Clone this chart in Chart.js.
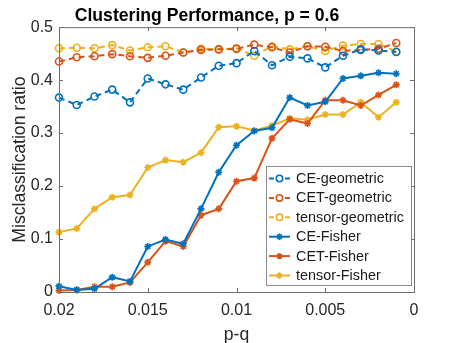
<!DOCTYPE html>
<html>
<head>
<meta charset="utf-8">
<script src="https://cdn.jsdelivr.net/npm/chart.js@4"></script>
<style>
  html, body { margin: 0; padding: 0; background: #fff; }
  #wrap { width: 458px; height: 343px; }
</style>
</head>
<body>
<div id="wrap"><canvas id="perf" width="458" height="343"></canvas></div>
<script>
// p-q values (x axis runs from 0.02 down to 0)
const pq = [0.02, 0.019, 0.018, 0.017, 0.016, 0.015, 0.014, 0.013, 0.012, 0.011,
            0.010, 0.009, 0.008, 0.007, 0.006, 0.005, 0.004, 0.003, 0.002, 0.001];

const ceGeometric = [0.367, 0.353, 0.369, 0.382, 0.358, 0.403, 0.392, 0.382, 0.405, 0.427,
                     0.432, 0.455, 0.428, 0.444, 0.441, 0.424, 0.446, 0.458, 0.456, 0.453];
const cetGeometric = [0.435, 0.443, 0.445, 0.449, 0.445, 0.442, 0.446, 0.452, 0.457, 0.458,
                      0.459, 0.467, 0.462, 0.452, 0.464, 0.463, 0.455, 0.457, 0.459, 0.470];
const tensorGeometric = [0.460, 0.461, 0.460, 0.466, 0.456, 0.462, 0.464, 0.452, 0.459, 0.458,
                         0.460, 0.446, 0.464, 0.458, 0.464, 0.455, 0.465, 0.468, 0.468, 0.454];
const ceFisher = [0.011, 0.004, 0.006, 0.028, 0.020, 0.086, 0.099, 0.091, 0.157, 0.226,
                  0.277, 0.304, 0.310, 0.367, 0.352, 0.359, 0.403, 0.408, 0.414, 0.412];
const cetFisher = [0.003, 0.004, 0.010, 0.010, 0.018, 0.056, 0.096, 0.086, 0.145, 0.157,
                   0.209, 0.215, 0.290, 0.326, 0.318, 0.362, 0.362, 0.352, 0.372, 0.391];
const tensorFisher = [0.113, 0.120, 0.157, 0.179, 0.183, 0.235, 0.249, 0.245, 0.263, 0.311,
                      0.313, 0.305, 0.314, 0.328, 0.325, 0.335, 0.335, 0.358, 0.330, 0.358];

const seriesNames = ['CE-geometric', 'CET-geometric', 'tensor-geometric',
                     'CE-Fisher', 'CET-Fisher', 'tensor-Fisher'];
const xTicks = [0.02, 0.015, 0.01, 0.005, 0];
const yTicks = [0, 0.1, 0.2, 0.3, 0.4, 0.5];

const blue = '#0072BD', red = '#D95319', yellow = '#EDB120';
const FONT = '"Liberation Sans", Arial, Helvetica, sans-serif';

function pts(ys) {
  return ys.map((y, i) => ({ x: pq[i], y: y }));
}

function makeSet(name, ys, color, geometric) {
  return {
    label: name,
    data: pts(ys),
    borderColor: color,
    backgroundColor: color,
    borderWidth: 2,
    borderDash: geometric ? [6, 4] : [],
    pointStyle: geometric ? 'circle' : 'star',
    pointRadius: 3.5,
    pointBorderWidth: 1.6,
    pointBackgroundColor: geometric ? 'rgba(0,0,0,0)' : color,
    pointBorderColor: color,
    tension: 0,
    clip: 8,
  };
}

// box round the axes with inward ticks, like matlab
const boxPlugin = {
  id: 'box',
  afterDraw(chart) {
    const ctx = chart.ctx;
    const a = chart.chartArea;
    const xs = chart.scales.x, ys = chart.scales.y;
    ctx.save();
    ctx.strokeStyle = '#6e6e6e';
    ctx.lineWidth = 1;
    ctx.strokeRect(a.left + 0.5, a.top + 0.5, a.right - a.left, a.bottom - a.top);
    ctx.beginPath();
    xTicks.forEach((t) => {
      const px = Math.round(xs.getPixelForValue(t)) + 0.5;
      ctx.moveTo(px, a.bottom); ctx.lineTo(px, a.bottom - 4);
      ctx.moveTo(px, a.top); ctx.lineTo(px, a.top + 4);
    });
    yTicks.forEach((t) => {
      const py = Math.round(ys.getPixelForValue(t)) + 0.5;
      ctx.moveTo(a.left, py); ctx.lineTo(a.left + 4, py);
      ctx.moveTo(a.right, py); ctx.lineTo(a.right - 4, py);
    });
    ctx.stroke();
    ctx.restore();
  },
};

// legend drawn inside the lower right corner
const legendPlugin = {
  id: 'insideLegend',
  afterDraw(chart) {
    const ctx = chart.ctx;
    const a = chart.chartArea;
    const w = 145, h = 119;
    const left = a.right - 3 - w, top = a.bottom - 7 - h;
    ctx.save();
    ctx.fillStyle = '#fff';
    ctx.fillRect(left, top, w, h);
    ctx.strokeStyle = '#8c8c8c';
    ctx.lineWidth = 1;
    ctx.strokeRect(left + 0.5, top + 0.5, w, h);
    ctx.font = '14.4px ' + FONT;
    ctx.textBaseline = 'middle';
    chart.data.datasets.forEach((ds, i) => {
      const cy = top + 12.5 + i * 19.4;
      ctx.strokeStyle = ds.borderColor;
      ctx.lineWidth = 2;
      ctx.setLineDash(ds.borderDash.length ? [5, 3] : []);
      ctx.beginPath();
      ctx.moveTo(left + 3, cy);
      ctx.lineTo(left + 24, cy);
      ctx.stroke();
      ctx.setLineDash([]);
      ctx.lineWidth = 1.6;
      ctx.fillStyle = ds.pointStyle === 'circle' ? '#fff' : ds.borderColor;
      Chart.helpers.drawPoint(ctx, {
        pointStyle: ds.pointStyle, radius: 3.2, rotation: 0, borderWidth: 1.6,
      }, left + 13.5, cy);
      ctx.fillStyle = '#1a1a1a';
      ctx.fillText(ds.label, left + 30, cy + 0.5);
    });
    ctx.restore();
  },
};

new Chart(document.getElementById('perf'), {
  type: 'line',
  data: {
    datasets: [
      makeSet(seriesNames[0], ceGeometric, blue, true),
      makeSet(seriesNames[1], cetGeometric, red, true),
      makeSet(seriesNames[2], tensorGeometric, yellow, true),
      makeSet(seriesNames[3], ceFisher, blue, false),
      makeSet(seriesNames[4], cetFisher, red, false),
      makeSet(seriesNames[5], tensorFisher, yellow, false),
    ],
  },
  options: {
    responsive: false,
    animation: false,
    devicePixelRatio: 1,
    layout: { padding: { left: 0, right: 44, top: 0, bottom: 0 } },
    plugins: {
      legend: { display: false },
      tooltip: { enabled: false },
      title: {
        display: true,
        text: 'Clustering Performance, p = 0.6',
        color: '#000',
        font: { family: FONT, size: 17.6, weight: 'bold' },
        padding: { top: 6, bottom: 0 },
      },
    },
    scales: {
      x: {
        type: 'linear',
        reverse: true,
        min: 0,
        max: 0.02,
        afterBuildTicks(scale) {
          scale.ticks = xTicks.map((v) => ({ value: v }));
        },
        afterFit(scale) { scale.height = 51; },
        grid: { display: false, drawTicks: false },
        border: { display: false },
        ticks: {
          color: '#262626',
          padding: 9,
          maxRotation: 0,
          font: { family: FONT, size: 16 },
          callback: (v) => String(+v.toFixed(3)),
        },
        title: {
          display: true,
          text: 'p-q',
          color: '#262626',
          font: { family: FONT, size: 17.6 },
          padding: { top: 0, bottom: -3 },
        },
      },
      y: {
        min: 0,
        max: 0.5,
        afterBuildTicks(scale) {
          scale.ticks = yTicks.map((v) => ({ value: v }));
        },
        afterFit(scale) { scale.width = 59; },
        grid: { display: false, drawTicks: false },
        border: { display: false },
        ticks: {
          color: '#262626',
          padding: 6,
          font: { family: FONT, size: 16 },
          callback: (v) => String(+v.toFixed(1)),
        },
        title: {
          display: true,
          text: 'Misclassification ratio',
          color: '#262626',
          font: { family: FONT, size: 17.6 },
          padding: { top: 9.5, bottom: 0 },
        },
      },
    },
  },
  plugins: [boxPlugin, legendPlugin],
});
</script>
</body>
</html>
